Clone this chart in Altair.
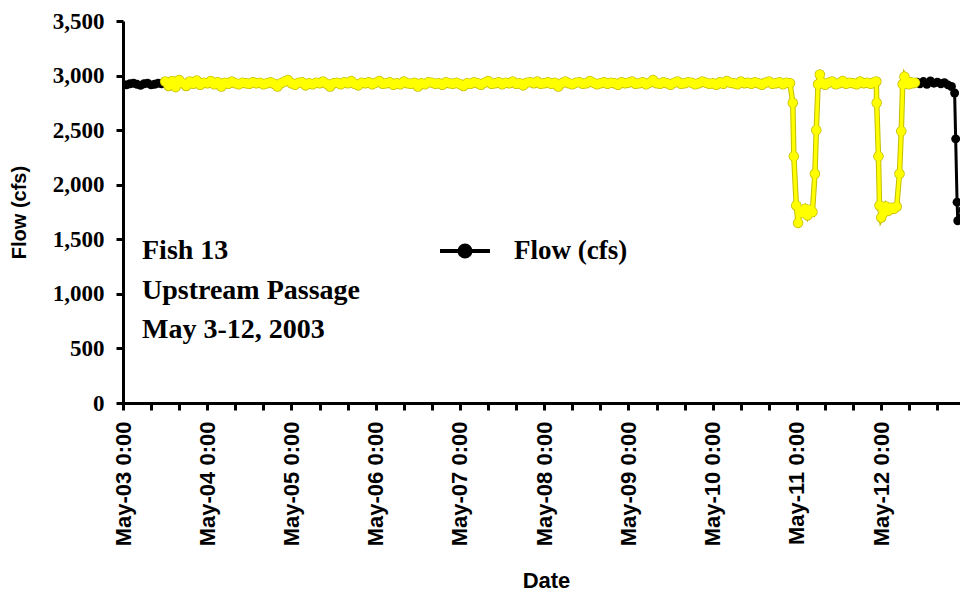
import altair as alt
import pandas as pd
from datetime import datetime, timedelta

# Hourly flow (cfs), hours 0..190 after May-03 0:00
flow_hourly = [
    2920, 2915, 2925, 2930, 2920, 2910, 2925, 2930, 2915, 2920, 2930, 2925,
    2945, 2905, 2950, 2895, 2960, 2930, 2905, 2945, 2925, 2955, 2915, 2935,
    2930, 2950, 2920, 2940, 2900, 2935, 2925, 2945, 2930, 2920, 2935, 2930,
    2925, 2940, 2930, 2935, 2920, 2930, 2940, 2925, 2900, 2930, 2945, 2960,
    2930, 2915, 2935, 2940, 2910, 2930, 2920, 2935, 2930, 2945, 2925, 2900,
    2930, 2935, 2920, 2940, 2930, 2950, 2925, 2910, 2935, 2930, 2940, 2920,
    2935, 2950, 2925, 2930, 2940, 2915, 2930, 2920, 2945, 2930, 2925, 2935,
    2900, 2930, 2920, 2940, 2935, 2925, 2930, 2915, 2940, 2930, 2925, 2935,
    2920, 2905, 2930, 2925, 2940, 2930, 2915, 2935, 2950, 2925, 2930, 2940,
    2920, 2935, 2930, 2945, 2925, 2930, 2910, 2935, 2940, 2930, 2945, 2925,
    2930, 2940, 2925, 2935, 2900, 2930, 2945, 2930, 2920, 2935, 2940, 2925,
    2930, 2950, 2935, 2920, 2930, 2940, 2925, 2935, 2930, 2915, 2940, 2930,
    2935, 2945, 2925, 2930, 2940, 2920, 2935, 2960, 2930, 2925, 2940, 2930,
    2915, 2935, 2945, 2925, 2930, 2940, 2935, 2920, 2930, 2945, 2935, 2925,
    2930, 2915, 2940, 2925, 2950, 2935, 2930, 2920, 2945, 2930, 2935, 2925,
    2940, 2930, 2915, 2935, 2945, 2925, 2930, 2940, 2920, 2935, 2930,
]

# Irregular readings afterwards (hours after May-03 0:00)
event_hours = [
    190.8, 191.1, 191.8, 192.3, 192.8, 193.5, 194.3, 195.0, 195.7, 196.4,
    197.1, 197.5, 198.0, 198.5, 199.0,
    200, 201, 202, 203, 204, 205, 206, 207, 208, 209, 210, 211, 212, 213, 214,
    214.6, 214.7, 215.2, 215.5, 216.0,
    216.6, 217.3, 218.0, 218.8, 219.6, 220.4,
    221.2, 221.7, 222.1, 222.6,
    223.2, 223.8, 224.4, 225.0, 225.6, 226.2,
    227, 228, 229, 230, 231, 232, 233, 234, 235, 236,
    236.9, 237.2, 237.6, 237.8, 239.2, 240.0, 240.7, 241.5,
]
event_flow = [
    2750, 2260, 1810, 1650, 1760, 1740, 1780, 1720, 1770, 1750,
    2100, 2500, 2920, 3010, 2940,
    2915, 2935, 2945, 2920, 2930, 2950, 2925, 2935, 2930, 2920, 2945, 2930, 2935, 2925, 2940,
    2945, 2750, 2260, 1810, 1700,
    1740, 1800, 1760, 1790, 1780, 1800,
    2100, 2490, 2920, 2990,
    2950, 2920, 2940, 2930, 2935, 2940,
    2925, 2945, 2920, 2950, 2930, 2940, 2925, 2935, 2915, 2900,
    2840, 2420, 1840, 1670, 1770, 1260, 900, 700,
]

# Fish present (yellow) between these hours
fish_start_h = 11.5
fish_end_h = 226.0

annotation_lines = ["Fish 13", "Upstream Passage", "May 3-12, 2003"]
series_name = "Flow (cfs)"

hours = list(range(len(flow_hourly))) + event_hours
flow = flow_hourly + event_flow
base = datetime(2003, 5, 3)
df = pd.DataFrame({
    "time": [base + timedelta(hours=h) for h in hours],
    "hour": hours,
    "flow": flow,
    "series": series_name,
})
fish = df[(df["hour"] >= fish_start_h) & (df["hour"] <= fish_end_h)]

tick_vals = [alt.DateTime(year=2003, month=5, date=3 + (k * 8) // 24, hours=(k * 8) % 24)
             for k in range(31)]

x_enc = alt.X(
    "time:T",
    scale=alt.Scale(domain=[alt.DateTime(year=2003, month=5, date=3, hours=0),
                            alt.DateTime(year=2003, month=5, date=12, hours=22, minutes=26)]),
    axis=alt.Axis(
        values=tick_vals,
        labelExpr="hours(datum.value) == 0 ? timeFormat(datum.value, '%b-%d %-H:%M') : ''",
        labelAngle=-90, labelOverlap=False,
        labelFont="Liberation Sans", labelFontWeight="bold", labelFontSize=22,
        labelColor="black", labelPadding=11,
        tickSize=7, tickWidth=3, tickColor="black",
        domainColor="black", domainWidth=3, grid=False,
        title="Date", titleFont="Liberation Sans", titleFontWeight="bold",
        titleFontSize=22, titleColor="black",
        titleBaseline="alphabetic", titleY=184, titleX=423,
    ),
)
y_enc = alt.Y(
    "flow:Q",
    scale=alt.Scale(domain=[0, 3500]),
    axis=alt.Axis(
        values=list(range(0, 3501, 500)), format=",.0f",
        labelFont="Liberation Serif", labelFontWeight="bold", labelFontSize=23,
        labelColor="black", labelPadding=12,
        tickSize=7, tickWidth=3, tickColor="black",
        domainColor="black", domainWidth=3, grid=False,
        title="Flow (cfs)", titleFont="Liberation Sans", titleFontWeight="bold",
        titleFontSize=20, titleColor="black",
        titleBaseline="alphabetic", titleX=-98, titleY=191, titleAngle=-90,
    ),
)

legend_path = "M-1,0L1,0M-0.22,0A0.22,0.22 0 1,0 0.22,0A0.22,0.22 0 1,0 -0.22,0Z"

black_line = alt.Chart(df).mark_line(strokeWidth=3, clip=True).encode(
    x=x_enc, y=y_enc,
    color=alt.Color("series:N", scale=alt.Scale(domain=[series_name], range=["black"]),
                    legend=alt.Legend(
                        orient="none", legendX=315, legendY=203, title=None,
                        symbolType=legend_path, symbolSize=2500, symbolStrokeWidth=4,
                        symbolStrokeColor="black", symbolFillColor="black",
                        labelFont="Liberation Serif", labelFontWeight="bold",
                        labelFontSize=27, labelColor="black", labelOffset=22, padding=0,
                    )),
)
black_pts = alt.Chart(df).mark_point(filled=True, size=80, color="black", opacity=1,
                                     clip=True).encode(x=x_enc, y=y_enc)

yel_outline_line = alt.Chart(fish).mark_line(color="#C4BE00", strokeWidth=5.5, clip=True).encode(
    x=x_enc, y=y_enc)
yel_outline_pts = alt.Chart(fish).mark_point(filled=True, size=110, color="#C4BE00", opacity=1,
                                             clip=True).encode(x=x_enc, y=y_enc)
yel_line = alt.Chart(fish).mark_line(color="#FFFF00", strokeWidth=3.5, clip=True).encode(
    x=x_enc, y=y_enc)
yel_pts = alt.Chart(fish).mark_point(filled=True, size=80, color="#FFFF00", opacity=1,
                                     clip=True).encode(x=x_enc, y=y_enc)

note = alt.Chart(pd.DataFrame({"t": ["\n".join(annotation_lines)]})).mark_text(
    align="left", baseline="alphabetic", lineBreak="\n", lineHeight=39.5,
    font="Liberation Serif", fontWeight="bold", fontSize=28, color="black",
).encode(x=alt.value(19), y=alt.value(238), text="t:N")

chart = alt.layer(
    black_line, black_pts, yel_outline_line, yel_outline_pts, yel_line, yel_pts, note
).properties(
    width=837, height=382,
    autosize=alt.AutoSizeParams(type="none"),
    padding={"left": 115, "top": 13, "right": 0, "bottom": 190},
    background="white",
).configure_view(stroke=None)

chart.save("out.html", embed_options={"renderer": "svg", "actions": False})
